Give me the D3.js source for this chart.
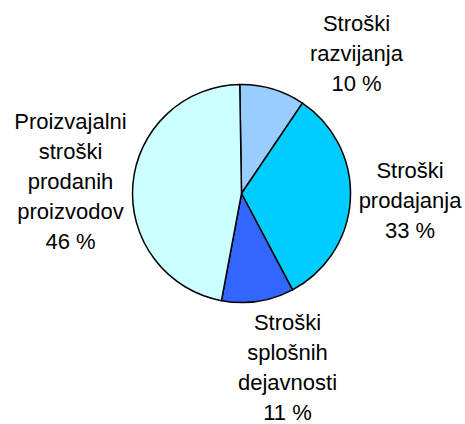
<!DOCTYPE html>
<html>
  <meta charset="utf-8" />
  <head>
    <script src="https://d3js.org/d3.v7.min.js"></script>
    <style>
      body {
        margin: 0;
        background: #fff;
      }
      .label {
        font-family: "Liberation Sans", Arial, sans-serif;
        font-size: 22px;
        fill: #000;
      }
    </style>
  </head>
  <body>
    <svg id="chart" width="465" height="424"></svg>

    <script>
      // categories (label lines), shares, printed percentages
      const categories = [
        ["Stroški", "razvijanja"],
        ["Stroški", "prodajanja"],
        ["Stroški", "splošnih", "dejavnosti"],
        ["Proizvajalni", "stroški", "prodanih", "proizvodov"],
      ];
      const values = [9.7, 32.8, 10.7, 46.8];
      const percentLabels = ["10 %", "33 %", "11 %", "46 %"];
      const colors = ["#99ccff", "#00ccff", "#3366ff", "#ccffff"];

      const cx = 241.5,
        cy = 193.5,
        radius = 109;
      const lineGap = 30;

      // label anchor (first baseline, centre) relative to pie centre
      const labelOffsets = [
        [115, -163],
        [168.5, -16],
        [46, 136],
        [-171, -65],
      ];

      const svg = d3.select("#chart");
      const g = svg.append("g").attr("transform", `translate(${cx}, ${cy})`);

      const start = -0.016;
      const pie = d3
        .pie()
        .sort(null)
        .startAngle(start)
        .endAngle(start + 2 * Math.PI);

      const arc = d3.arc().innerRadius(0).outerRadius(radius);

      g.selectAll("path")
        .data(pie(values))
        .enter()
        .append("path")
        .attr("d", arc)
        .attr("fill", (d, i) => colors[i])
        .attr("stroke", "#000")
        .attr("stroke-width", 1.5)
        .attr("stroke-linejoin", "round");

      categories.forEach((lines, i) => {
        const t = g
          .append("text")
          .attr("class", "label")
          .attr("text-anchor", "middle")
          .attr("x", labelOffsets[i][0])
          .attr("y", labelOffsets[i][1]);
        lines.concat([percentLabels[i]]).forEach((s, j) => {
          t.append("tspan")
            .attr("x", labelOffsets[i][0])
            .attr("dy", j === 0 ? 0 : lineGap)
            .text(s);
        });
      });
    </script>
  </body>
</html>
